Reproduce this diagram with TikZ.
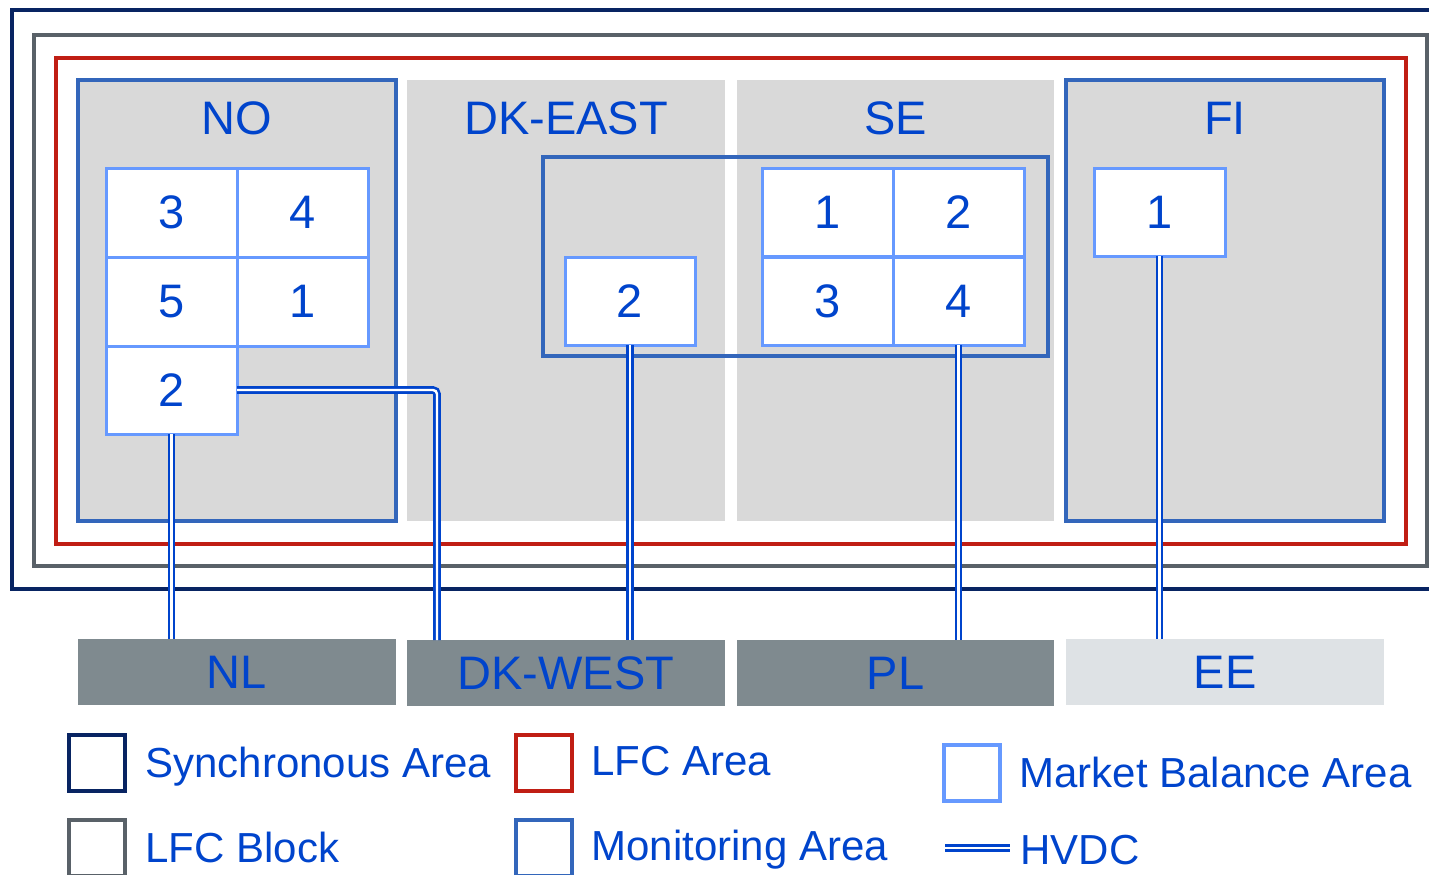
\documentclass[tikz,border=0pt]{standalone}
\usepackage{fontspec}
\setmainfont{Liberation Sans}
\usetikzlibrary{positioning}

\definecolor{syncnavy}{RGB}{8,36,98}
\definecolor{blockgrey}{RGB}{89,97,104}
\definecolor{lfcred}{RGB}{192,30,20}
\definecolor{monblue}{RGB}{51,102,187}
\definecolor{mbablue}{RGB}{102,153,255}
\definecolor{areagrey}{RGB}{217,217,217}
\definecolor{txtblue}{RGB}{0,68,204}
\definecolor{bargrey}{RGB}{127,138,143}
\definecolor{barlight}{RGB}{222,226,229}

\tikzset{every picture/.style={line width=0.75pt},
  area/.style={fill=areagrey, minimum width=318, minimum height=441, inner sep=0pt, outer sep=0pt},
  monarea/.style={area, draw=monblue, line width=3.5},
  mba/.style={draw=mbablue, fill=white, line width=3, minimum width=131, minimum height=89, inner sep=0pt, outer sep=0pt, text=txtblue, font=\fontsize{47}{56}\selectfont},
  arealabel/.style={inner sep=0pt, text=txtblue, font=\fontsize{47}{56}\selectfont},
  nbar/.style={fill=bargrey, minimum width=318, minimum height=66, inner sep=0pt, outer sep=0pt, text=txtblue, font=\fontsize{47}{56}\selectfont},
  hvdc/.style={draw=txtblue, line width=2.6, double=white, double distance=2.4},
  legbox/.style={line width=3.5, minimum size=56, inner sep=0pt, outer sep=0pt},
  legtext/.style={anchor=base west, inner sep=0pt, text=txtblue, font=\fontsize{42}{50}\selectfont}
}

\begin{document}
\begin{tikzpicture}[x=1pt,y=1pt,yscale=-1,xscale=1]
\useasboundingbox (0,0) rectangle (1429,875);

%Shape: Rectangle, synchronous area
\draw [syncnavy, line width=3.5] (12,10) rectangle (1450,589) ;
%Shape: Rectangle, LFC block
\draw [blockgrey, line width=3.5] (34,35) rectangle (1427,566) ;
%Shape: Rectangle, LFC area
\draw [lfcred, line width=3.5] (56,58) rectangle (1406,544) ;

% Areas
\node [monarea] (noarea) at (237,300.5) {};
\node [area] (dkearea) at (566,300.5) {};
\node [area, minimum width=317] (searea) at (895.5,300.5) {};
\node [monarea] (fiarea) at (1225,300.5) {};
% Monitoring area DK-EAST + SE
\node [draw=monblue, line width=3.5, minimum width=505, minimum height=199, inner sep=0pt] (dksemon) at (795.5,256.5) {};

% Text Node
\node [arealabel] (nolbl) at (237,118) {NO};
\node [arealabel] (dkelbl) at (566,118) {DK-EAST};
\node [arealabel] (selbl) at (895.5,118) {SE};
\node [arealabel] (filbl) at (1225,118) {FI};

% Market balance areas NO
\node [mba] (no3) at (171.5,212.5) {3};
\node [mba] (no4) at (302.5,212.5) {4};
\node [mba] (no5) at (171.5,301.5) {5};
\node [mba] (no1) at (302.5,301.5) {1};
\node [mba, minimum height=88] (no2) at (171.5,390) {2};
% Market balance areas DK-EAST, SE, FI
\node [mba, minimum width=130, minimum height=88] (dke2) at (630,301) {2};
\node [mba, minimum height=88] (se1) at (827.5,212.5) {1};
\node [mba, minimum height=88] (se2) at (958.5,212.5) {2};
\node [mba, minimum height=88] (se3) at (827.5,301) {3};
\node [mba, minimum height=88] (se4) at (958.5,301) {4};
\node [mba, minimum height=88] (fi1) at (1159.5,212) {1};

% Neighbour systems
\node [nbar] (nl) at (237,672) {NL};
\node [nbar] (dkwest) at (566,673) {DK-WEST};
\node [nbar, minimum width=317] (pl) at (895.5,673) {PL};
\node [nbar, fill=barlight] (ee) at (1225,672) {EE};

% HVDC links
\coordinate (dkwtap) at (437,390);
\draw [hvdc] (no2.south) -- (no2.south |- nl.north) ;
\draw [hvdc, rounded corners=4] (no2.east) -- (dkwtap) -- (dkwtap |- dkwest.north) ;
\draw [hvdc] (dke2.south) -- (dke2.south |- dkwest.north) ;
\draw [hvdc] (se4.south) -- (se4.south |- pl.north) ;
\draw [hvdc] (fi1.south) -- (fi1.south |- ee.north) ;

% Legend
\node [legbox, draw=syncnavy] (lgsync) at (97,763) {};
\node [legbox, draw=blockgrey] (lgblock) at (97,848) {};
\node [legbox, draw=lfcred] (lglfc) at (544,763) {};
\node [legbox, draw=monblue] (lgmon) at (544,848) {};
\node [legbox, draw=mbablue, line width=4] (lgmba) at (972,773) {};
\coordinate (lghvdc) at (945,848);

\node [legtext] (lgsynctxt) at (145,777) {Synchronous Area};
\node [legtext] (lgblocktxt) at (145,862) {LFC Block};
\node [legtext] (lglfctxt) at (591,775) {LFC Area};
\node [legtext] (lgmontxt) at (591,860) {Monitoring Area};
\node [legtext] (lgmbatxt) at (1019,787) {Market Balance Area};
\node [legtext] (lghvdctxt) at (1020,864) {HVDC};
\draw [hvdc] (lghvdc) -- (lghvdc -| lghvdctxt.west) [shorten >=10pt] ;

\end{tikzpicture}
\end{document}
